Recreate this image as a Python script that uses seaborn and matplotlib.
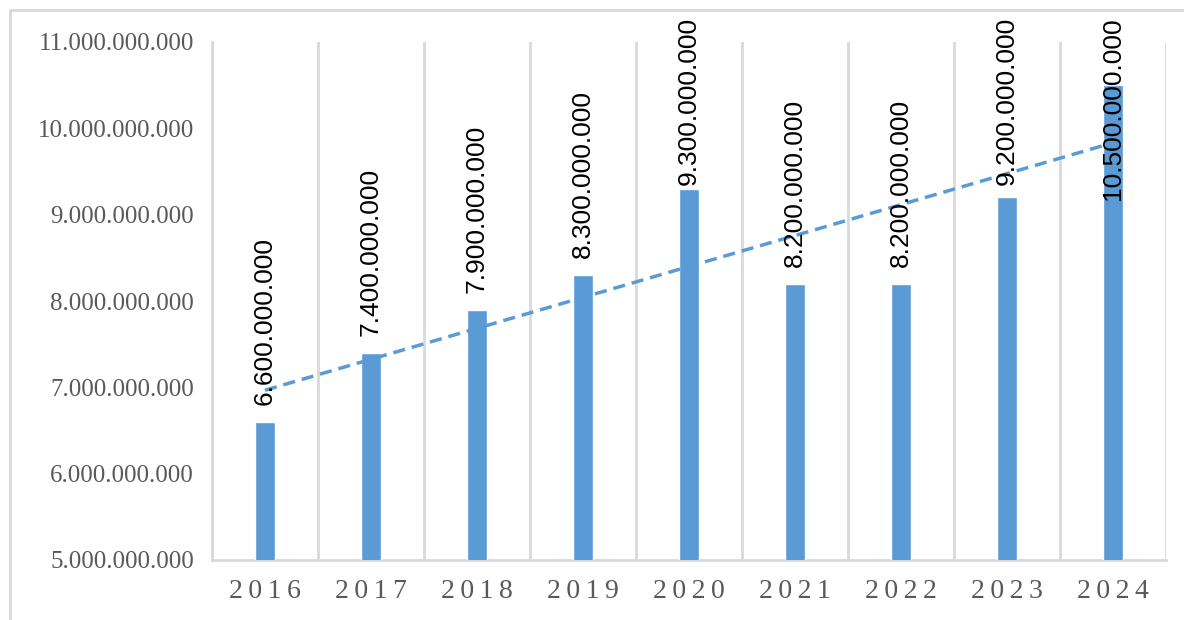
import matplotlib
matplotlib.use('Agg')
import matplotlib.pyplot as plt
import seaborn as sns
import numpy as np
import pandas as pd
from matplotlib.lines import Line2D
from matplotlib.ticker import FixedLocator

years = ['2016', '2017', '2018', '2019', '2020', '2021', '2022', '2023', '2024']
values = [6.6e9, 7.4e9, 7.9e9, 8.3e9, 9.3e9, 8.2e9, 8.2e9, 9.2e9, 10.5e9]
value_labels = ['6.600.000.000', '7.400.000.000', '7.900.000.000', '8.300.000.000',
                '9.300.000.000', '8.200.000.000', '8.200.000.000', '9.200.000.000',
                '10.500.000.000']
yticks = [5e9, 6e9, 7e9, 8e9, 9e9, 10e9, 11e9]
ytick_labels = ['5.000.000.000', '6.000.000.000', '7.000.000.000', '8.000.000.000',
                '9.000.000.000', '10.000.000.000', '11.000.000.000']

df = pd.DataFrame({'Year': years, 'Value': values})

sns.set_style('white')
plt.rcParams['font.family'] = ['Liberation Serif', 'DejaVu Serif']

blue = '#5B9BD5'
grid_col = '#D9D9D9'
text_col = '#595959'
W, H = 1184, 620

fig = plt.figure(figsize=(W/100, H/100), dpi=100)
ax = fig.add_axes([212/W, 1-560/H, (1166-212)/W, (560-42)/H])

sns.barplot(data=df, x='Year', y='Value', color=blue, width=0.19, ax=ax,
            saturation=1, zorder=3)

# linear trendline
xs = np.arange(len(values))
k, b = np.polyfit(xs, values, 1)
ax.plot(xs, k*xs + b, ls=(0, (3.5, 2)), color=blue, lw=2.5, zorder=4)

ax.set_xlim(-0.5, len(years)-0.5)
ax.set_ylim(5e9, 11e9)
ax.set_yticks(yticks)
ax.set_yticklabels(ytick_labels, fontsize=18, color=text_col)
ax.set_xticks(xs)
ax.set_xticklabels(['\u2009'.join(y) for y in years], fontsize=20, color=text_col)
ax.xaxis.set_minor_locator(FixedLocator(np.arange(-0.5, len(years), 1)))
ax.tick_params(axis='x', which='major', length=0, pad=14)
ax.tick_params(axis='x', which='minor', length=8, width=2, color=grid_col, direction='out')
ax.tick_params(axis='y', which='major', length=7, width=2, color=grid_col, direction='out', pad=6)
ax.grid(which='minor', axis='x', color=grid_col, lw=2, zorder=0)
ax.set_xlabel('')
ax.set_ylabel('')
for s in ['top', 'right']:
    ax.spines[s].set_visible(False)
for s in ['left', 'bottom']:
    ax.spines[s].set_color(grid_col)
    ax.spines[s].set_linewidth(2)

# data labels above bars; pushed down when they would run past the top
labels = []
for i, (v, lab) in enumerate(zip(values, value_labels)):
    t = ax.annotate(lab, xy=(i, v), xytext=(0, 12), textcoords='offset points',
                    rotation=90, ha='center', va='bottom', fontsize=19,
                    family=['Liberation Sans', 'DejaVu Sans'], color='black',
                    annotation_clip=False, zorder=5)
    labels.append(t)

fig.canvas.draw()
r = fig.canvas.get_renderer()
top_limit = H - 17
for i, t in enumerate(labels):
    bb = t.get_window_extent(r)
    if bb.y1 > top_limit:
        t.remove()
        ax.annotate(value_labels[i], xy=(i, 1.0), xycoords=('data', 'axes fraction'),
                    xytext=(0, 18), textcoords='offset points',
                    rotation=90, ha='center', va='top', fontsize=19,
                    family=['Liberation Sans', 'DejaVu Sans'], color='black',
                    annotation_clip=False, zorder=5)

# outer frame (left and top edges)
fig.add_artist(Line2D([10/W, 10/W], [0, 1-10/H], color=grid_col, lw=2))
fig.add_artist(Line2D([10/W, 1], [1-10/H, 1-10/H], color=grid_col, lw=2))

fig.savefig('out.png', dpi=100)
